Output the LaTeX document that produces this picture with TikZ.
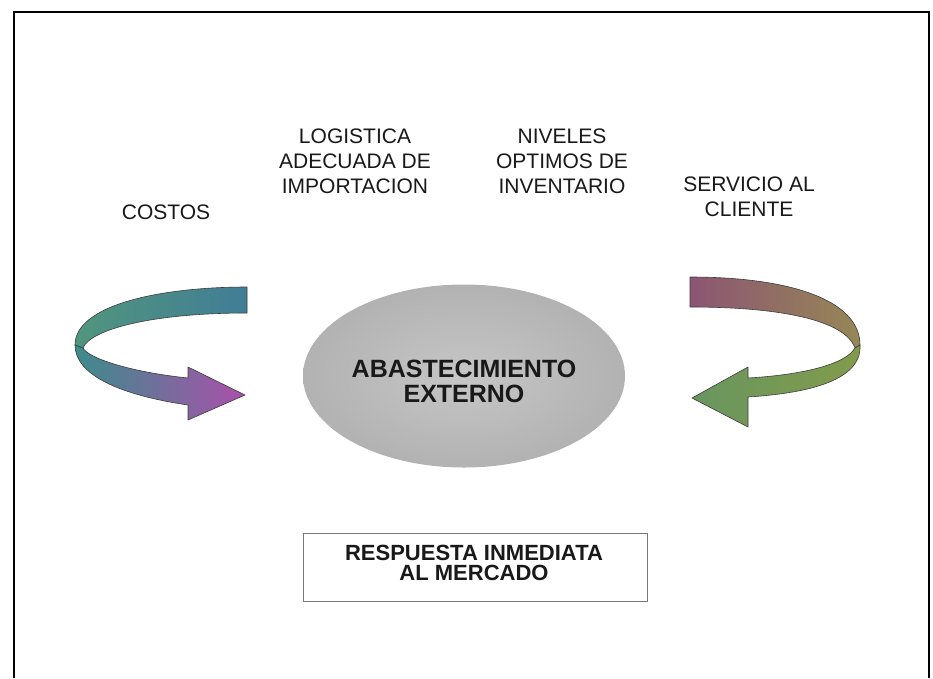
\documentclass[tikz,border=0pt]{standalone}
\usepackage{fontspec}
\setmainfont{Liberation Sans}
\usetikzlibrary{shapes.geometric}
\definecolor{ink}{rgb}{0.1,0.1,0.1}
\definecolor{tealA}{RGB}{80,150,125}
\definecolor{tealB}{RGB}{65,125,150}
\definecolor{tealC}{RGB}{60,140,140}
\definecolor{magA}{RGB}{170,80,170}
\definecolor{purB}{RGB}{140,85,115}
\definecolor{oliveA}{RGB}{150,135,85}
\definecolor{oliveB}{RGB}{130,155,75}
\definecolor{oliveC}{RGB}{105,150,95}
\tikzset{
  lbl/.style={font=\fontsize{21}{25}\selectfont, text=ink, align=center, inner sep=0pt},
  corelbl/.style={font=\bfseries\fontsize{25}{25}\selectfont, text=ink, align=center, inner sep=0pt},
  boxlbl/.style={font=\bfseries\fontsize{22}{20}\selectfont, text=ink, align=center, inner sep=0pt},
  ribbon/.style={draw={rgb,255:red,60;green,60;blue,60}, line width=0.6pt, line join=round},
  frameline/.style={draw=black, line width=1.6pt},
}
\begin{document}
\begin{tikzpicture}[x=1pt,y=-1pt]
\useasboundingbox (0,0) rectangle (933,678);
\fill[white] (0,0) rectangle (933,678);
% frame
\draw[frameline] (14,678) -- (14,12) -- (929,12) -- (929,678);

% top labels
\node[lbl] (costos) at (166,212) {COSTOS};
\node[lbl] (logistica) at (355,161) {LOGISTICA\\ADECUADA DE\\IMPORTACION};
\node[lbl] (niveles) at (562,161) {NIVELES\\OPTIMOS DE\\INVENTARIO};
\node[lbl] (servicio) at (749,197) {SERVICIO AL\\CLIENTE};

% central ellipse
\node[ellipse, minimum width=322pt, minimum height=183pt, inner sep=0pt,
      inner color={rgb,255:red,198;green,198;blue,198},
      outer color={rgb,255:red,178;green,178;blue,178}] (core) at (464,376) {};
\node[corelbl] (coretxt) at (464,381) {ABASTECIMIENTO\\EXTERNO};

% left U-turn arrow
\path[ribbon, left color=tealA, right color=tealB]
  (247,287) .. controls (160,287) and (75,305) .. (75,345)
  -- (83,348) .. controls (90,330) and (150,313) .. (247,313) -- cycle;
\path[ribbon, left color=tealC, right color=magA]
  (75,345) .. controls (75,375) and (120,395) .. (188,405)
  -- (188,420) -- (245,395) -- (188,367) -- (188,378)
  .. controls (130,372) and (88,358) .. (83,348) -- cycle;

% right U-turn arrow
\path[ribbon, left color=purB, right color=oliveA]
  (690,277) .. controls (790,277) and (860,300) .. (860,345)
  -- (855,348) .. controls (845,320) and (780,307) .. (690,307) -- cycle;
\path[ribbon, left color=oliveC, right color=oliveB]
  (860,345) .. controls (862,380) and (810,393) .. (748,397)
  -- (748,427) -- (692,398) -- (748,367) -- (748,378)
  .. controls (800,375) and (845,365) .. (855,348) -- cycle;

% bottom box
\node[draw={rgb,255:red,120;green,120;blue,120}, line width=0.8pt,
      minimum width=344pt, minimum height=68pt, inner sep=0pt] (resp) at (475,567) {};
\node[boxlbl] (resptxt) at (474,563) {RESPUESTA INMEDIATA\\AL MERCADO};
\end{tikzpicture}
\end{document}
